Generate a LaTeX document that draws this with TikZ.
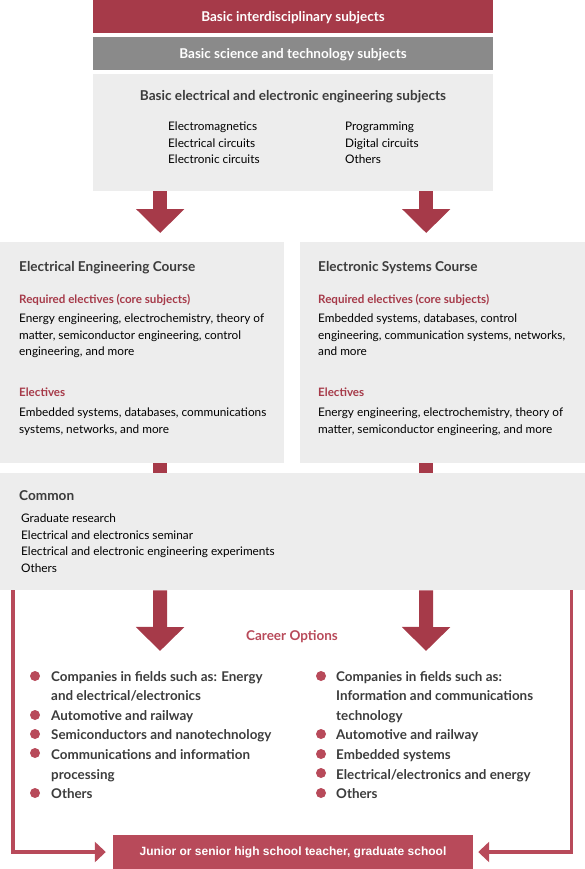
\documentclass[tikz,border=0pt]{standalone}
\usepackage{fontspec}
\setmainfont{Lato}
\newfontfamily\arialfont{Liberation Sans}
\usetikzlibrary{arrows.meta,positioning}
\definecolor{crimson}{HTML}{A63A49}
\definecolor{rose}{HTML}{B84A5A}
\definecolor{midgray}{HTML}{8A8A8A}
\definecolor{pale}{HTML}{EDEDED}
\definecolor{ink}{HTML}{3C3C3C}
\tikzset{
    bar/.style={fill=#1, anchor=north, minimum width=400pt, minimum height=33pt, inner sep=0pt},
    bartext/.style={inner sep=0pt, text=white, font=\bfseries\fontsize{13.5}{15}\selectfont},
    panel/.style={fill=pale, inner sep=0pt, anchor=north west},
    head/.style={inner sep=0pt, text=ink, font=\bfseries\fontsize{13.6}{15}\selectfont},
    sub/.style={inner sep=0pt, anchor=north west, text=crimson, font=\bfseries\fontsize{11.6}{13}\selectfont},
    body/.style={inner sep=0pt, anchor=north west, align=left, text=black,
        font=\fontsize{11.8}{16.5}\selectfont},
    career/.style={inner sep=0pt, anchor=north west, align=left, text=ink,
        font=\bfseries\fontsize{13.4}{19.6}\selectfont},
    dot/.style={circle, fill=rose, minimum size=10pt, inner sep=0pt},
    fat/.style={draw=crimson, line width=14pt, -{Triangle[width=47pt,length=24pt]}},
    stub/.style={draw=crimson, line width=14pt},
    route/.style={draw=rose, line width=3.5pt, -{Triangle[width=20pt,length=11pt]}}
}
\begin{document}
\begin{tikzpicture}[x=1pt, y=-1pt]
\useasboundingbox (0,0) rectangle (585,869);
\node[bar=crimson] (inter) at (293,0) {};
\node[bartext] (intert) at (293,18) {Basic interdisciplinary subjects};
\node[bar=midgray] (sci) at (293,37) {};
\node[bartext] (scit) at (293,55) {Basic science and technology subjects};
\node[panel, minimum width=400pt, minimum height=117pt] (basic) at (93,74) {};
\node[head] (basict) at (293,97) {Basic electrical and electronic engineering subjects};
\node[body] (basicl) at (168,122) {Electromagnetics\\Electrical circuits\\Electronic circuits};
\node[body] (basicr) at (345,122) {Programming\\Digital circuits\\Others};

\node[panel, minimum width=284pt, minimum height=221pt] (elec) at (0,242) {};
\node[panel, minimum width=285pt, minimum height=221pt] (rsys) at (300,242) {};
\node[head, anchor=west] (elect) at (19,268) {Electrical Engineering Course};
\node[sub] (elecreq) at (19,294) {Required electives (core subjects)};
\node[body] (elecreqt) at (19,314) {Energy engineering, electrochemistry, theory of\\matter, semiconductor engineering, control\\engineering, and more};
\node[sub] (elecopt) at (19,388) {Electives};
\node[body] (elecoptt) at (19,408) {Embedded systems, databases, communications\\systems, networks, and more};
\node[head, anchor=west] (rsyst) at (318,268) {Electronic Systems Course};
\node[sub] (rsysreq) at (318,294) {Required electives (core subjects)};
\node[body] (rsysreqt) at (318,314) {Embedded systems, databases, control\\engineering, communication systems, networks,\\and more};
\node[sub] (rsysopt) at (318,388) {Electives};
\node[body] (rsysoptt) at (318,408) {Energy engineering, electrochemistry, theory of\\matter, semiconductor engineering, and more};

\node[panel, minimum width=585pt, minimum height=117pt] (common) at (0,473) {};
\node[head, anchor=west] (commont) at (19,495.5) {Common};
\node[body] (commonl) at (21,514) {Graduate research\\Electrical and electronics seminar\\Electrical and electronic engineering experiments\\Others};

\node[inner sep=0pt, text=rose, font=\bfseries\fontsize{13.5}{15}\selectfont] (options) at (292,637) {Career Options};
\node[career] (leftjobs) at (51,671) {Companies in fields such as: Energy\\and electrical/electronics\\Automotive and railway\\Semiconductors and nanotechnology\\Communications and information\\processing\\Others};
\node[career] (rightjobs) at (336,671) {Companies in fields such as:\\Information and communications\\technology\\Automotive and railway\\Embedded systems\\Electrical/electronics and energy\\Others};
\foreach \y [count=\i] in {676,715,734,753,793} {
    \node[dot] (ld\i) at (35,\y) {};
}
\foreach \y [count=\i] in {676,734,754,773,793} {
    \node[dot] (rd\i) at (321,\y) {};
}
\node[fill=rose, minimum width=360pt, minimum height=34pt, inner sep=0pt, text=white,
    font=\arialfont\bfseries\fontsize{12}{14}\selectfont] (teacher) at (293,852) {Junior or senior high school teacher, graduate school};

\coordinate (ltip) at (160,651);
\coordinate (rtip) at (426,651);
\draw[fat] ([xshift=-133pt]basic.south) -- ([xshift=18pt]elec.north) [shorten >=9pt];
\draw[fat] ([xshift=133pt]basic.south) -- ([xshift=-16.5pt]rsys.north) [shorten >=9pt];
\draw[stub] ([xshift=18pt]elec.south) -- ([xshift=-132.5pt]common.north);
\draw[stub] ([xshift=-16.5pt]rsys.south) -- ([xshift=133.5pt]common.north);
\draw[fat] ([xshift=-132.5pt]common.south) -- (ltip);
\draw[fat] ([xshift=133.5pt]common.south) -- (rtip);
\draw[route, shorten >=7pt] ([xshift=-279.5pt]common.south) |- (teacher.west);
\draw[route, shorten >=5pt] ([xshift=279pt]common.south) |- (teacher.east);
\end{tikzpicture}
\end{document}
